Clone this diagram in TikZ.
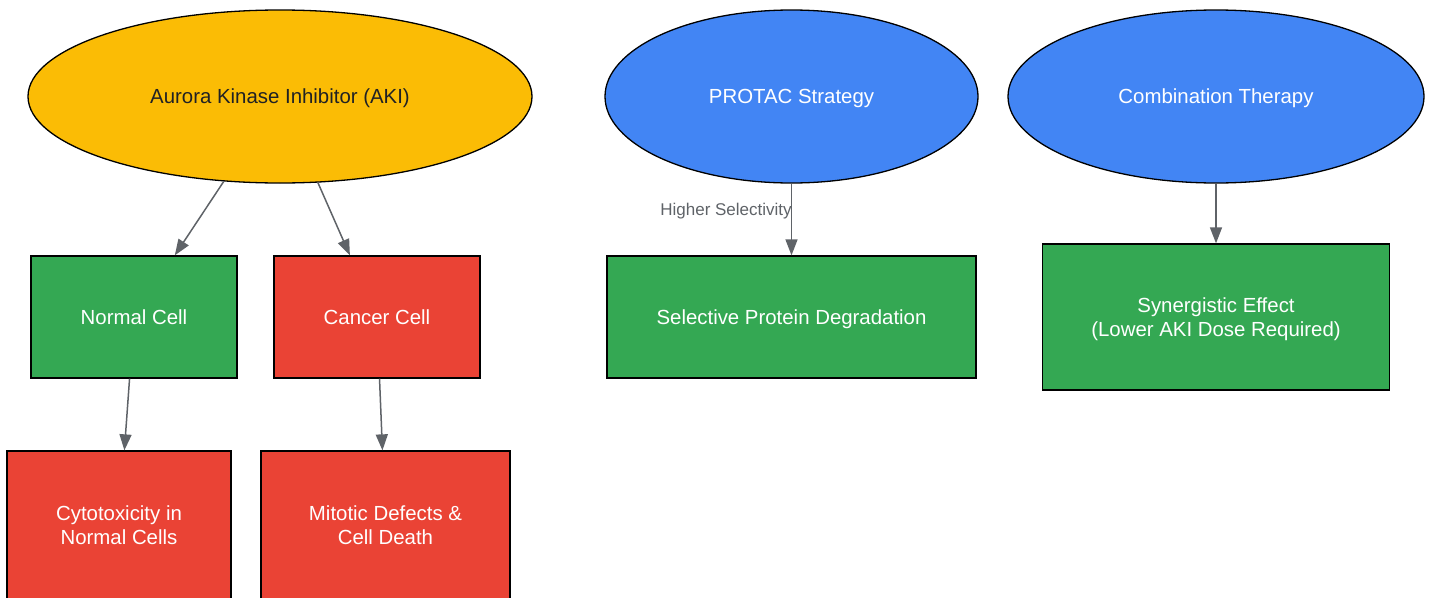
\documentclass[tikz,border=0pt]{standalone}
\usepackage{fontspec}
\setmainfont{Liberation Sans}
\usetikzlibrary{shapes.geometric,arrows.meta}
\definecolor{gyellow}{HTML}{FBBC05}
\definecolor{gblue}{HTML}{4285F4}
\definecolor{ggreen}{HTML}{34A853}
\definecolor{gred}{HTML}{EA4335}
\definecolor{ggray}{HTML}{5F6368}
\definecolor{dtext}{HTML}{202124}
\tikzset{
  ell/.style={ellipse, draw=black, line width=1.3pt, inner sep=0pt, text depth=0pt, font=\fontsize{20.4}{24}\selectfont},
  box/.style={rectangle, draw=black, line width=1.3pt, inner sep=0pt, text depth=0pt, text=white, align=center, font=\fontsize{20.4}{24}\selectfont},
  conn/.style={draw=ggray, line width=1.5pt, -{Triangle[length=16pt,width=12pt]}},
  lbl/.style={text=ggray, text depth=0pt, font=\fontsize{17}{20}\selectfont, inner sep=0pt}
}
\begin{document}
\begin{tikzpicture}[x=1pt,y=-1pt]
\useasboundingbox (0,0) rectangle (1434,597);
\node[ell, fill=gyellow, text=dtext, minimum width=504pt, minimum height=173pt] (aki) at (280,96.5) {Aurora Kinase Inhibitor (AKI)};
\node[ell, fill=gblue, text=white, minimum width=373pt, minimum height=173pt] (protac) at (791.5,96.5) {PROTAC Strategy};
\node[ell, fill=gblue, text=white, minimum width=416pt, minimum height=173pt] (comb) at (1216,96.5) {Combination Therapy};
\node[box, fill=ggreen, minimum width=206pt, minimum height=122pt] (normal) at (134,317) {Normal Cell};
\node[box, fill=gred, minimum width=206pt, minimum height=122pt] (cancer) at (377,317) {Cancer Cell};
\node[box, fill=ggreen, minimum width=369pt, minimum height=122pt] (sel) at (791.5,317) {Selective Protein Degradation};
\node[box, fill=ggreen, minimum width=347pt, minimum height=146pt] (syn) at (1216,317) {Synergistic Effect\\(Lower AKI Dose Required)};
\node[box, fill=gred, minimum width=224pt, minimum height=148pt] (cyto) at (119,525) {Cytotoxicity in\\Normal Cells};
\node[box, fill=gred, minimum width=249pt, minimum height=148pt] (mito) at (385.5,525) {Mitotic Defects \&\\Cell Death};
\draw[conn] (aki) -- (normal);
\draw[conn] (aki) -- (cancer);
\draw[conn] (normal) -- (cyto);
\draw[conn] (cancer) -- (mito);
\draw[conn] (protac) -- (sel);
\draw[conn] (comb) -- (syn);
\node[lbl] (hs) at (726,209) {Higher Selectivity};
\end{tikzpicture}
\end{document}
